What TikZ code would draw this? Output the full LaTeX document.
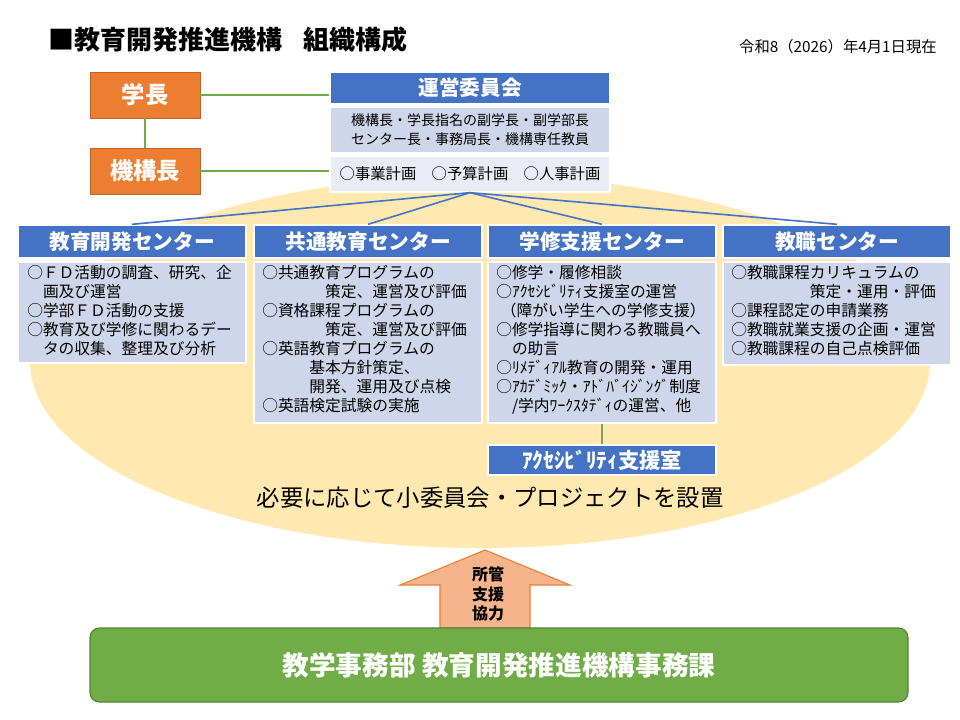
\documentclass[tikz,border=0pt]{standalone}
\usepackage{fontspec}
\setmainfont{Noto Sans CJK JP}
\usetikzlibrary{positioning}
\definecolor{hblue}{RGB}{68,114,196}
\definecolor{bbody}{RGB}{207,213,234}
\definecolor{blight}{RGB}{233,235,245}
\definecolor{orng}{RGB}{237,125,49}
\definecolor{lorng}{RGB}{246,180,140}
\definecolor{grn}{RGB}{112,173,71}
\definecolor{dgrn}{RGB}{84,130,53}
\definecolor{ell}{RGB}{255,233,176}
\begin{document}
\begin{tikzpicture}[x=0.75pt,y=-0.75pt,
  hdr/.style={fill=hblue,draw=white,line width=1pt,text=white,font=\bfseries\fontsize{15.5}{17}\selectfont,inner sep=0pt},
  bdy/.style={fill=bbody,draw=white,line width=1pt,inner sep=0pt},
  txt/.style={anchor=north west,align=left,inner sep=0pt,font=\fontsize{11.8}{14.25}\selectfont},
  ob/.style={fill=orng,draw=orng!80!black,text=white,font=\bfseries\fontsize{17.5}{19}\selectfont,minimum width=82.5pt,minimum height=34.5pt,inner sep=0pt},
  gl/.style={draw=grn,line width=1.2pt},
  bl/.style={draw=hblue,line width=1.2pt}]
\useasboundingbox (0,0) rectangle (960,720);
\fill[white] (0,0) rectangle (960,720);
\fill[ell] (480,362) ellipse [x radius=450, y radius=186];
\node[anchor=west,font=\bfseries\fontsize{19.5}{21}\selectfont,inner sep=0pt] (title) at (48,40) {■教育開発推進機構\hspace{0.8em}組織構成};
\node[anchor=east,font=\fontsize{11.5}{13}\selectfont,inner sep=0pt] (date) at (937,47) {令和8（2026）年4月1日現在};
% left
\node[ob] (gakucho) at (145,95) {学長};
\node[ob] (kikocho) at (145,171) {機構長};
\draw[gl] (gakucho) -- (kikocho);
% committee
\node[hdr,minimum width=210pt,minimum height=24pt] (unei) at (470,88) {運営委員会};
\node[bdy,minimum width=210pt,minimum height=34.5pt] (ueb) at (470,130) {};
\node[align=center,inner sep=0pt,font=\fontsize{10.5}{14.25}\selectfont] (uebt) at (ueb.center) {機構長・学長指名の副学長・副学部長\\センター長・事務局長・機構専任教員};
\node[fill=blight,draw=white,line width=1pt,minimum width=210pt,minimum height=27pt,inner sep=0pt,font=\fontsize{11.5}{13}\selectfont] (plan) at (470,174) {○事業計画\hspace{1em}○予算計画\hspace{1em}○人事計画};
\draw[gl] (gakucho.east) -- (unei.west|-gakucho.east);
\draw[gl] (kikocho.east) -- (plan.west|-kikocho.east);
% centers
\node[hdr,minimum width=171pt,minimum height=24.75pt] (c1) at (132,241.5) {教育開発センター};
\node[hdr,minimum width=171pt,minimum height=24.75pt] (c2) at (368,241.5) {共通教育センター};
\node[hdr,minimum width=171pt,minimum height=24.75pt] (c3) at (602,241.5) {学修支援センター};
\node[hdr,minimum width=171pt,minimum height=24.75pt] (c4) at (837,241.5) {教職センター};
\foreach \c in {c1,c2,c3,c4} \draw[bl] (plan.south) -- (\c.north);
\node[bdy,minimum width=171pt,minimum height=75.75pt] (b1) at (132,312.5) {};
\node[bdy,minimum width=171pt,minimum height=120.75pt] (b2) at (368,342.5) {};
\node[bdy,minimum width=171pt,minimum height=120.75pt] (b3) at (602,342.5) {};
\node[bdy,minimum width=171pt,minimum height=77.25pt] (b4) at (837,313.5) {};
\node[txt] (t1) at (27,265) {○ＦＤ活動の調査、研究、企\\\hspace{1em}画及び運営\\○学部ＦＤ活動の支援\\○教育及び学修に関わるデー\\\hspace{1em}タの収集、整理及び分析};
\node[txt] (t2) at (262,265) {○共通教育プログラムの\\\hspace{4em}策定、運営及び評価\\○資格課程プログラムの\\\hspace{4em}策定、運営及び評価\\○英語教育プログラムの\\\hspace{3em}基本方針策定、\\\hspace{3em}開発、運用及び点検\\○英語検定試験の実施};
\node[txt] (t3) at (496,265) {○修学・履修相談\\○ｱｸｾｼﾋﾞﾘﾃｨ支援室の運営\\\hspace{0.3em}（障がい学生への学修支援）\\○修学指導に関わる教職員へ\\\hspace{1em}の助言\\○ﾘﾒﾃﾞｨｱﾙ教育の開発・運用\\○ｱｶﾃﾞﾐｯｸ・ｱﾄﾞﾊﾞｲｼﾞﾝｸﾞ制度\\\hspace{1em}/学内ﾜｰｸｽﾀﾃﾞｨの運営、他};
\node[txt] (t4) at (731,265) {○教職課程カリキュラムの\\\hspace{5em}策定・運用・評価\\○課程認定の申請業務\\○教職就業支援の企画・運営\\○教職課程の自己点検評価};
\node[hdr,minimum width=171pt,minimum height=22.5pt,font=\bfseries\fontsize{16}{18}\selectfont] (acc) at (602,460) {ｱｸｾｼﾋﾞﾘﾃｨ支援室};
\draw[gl] (b3.south) -- (acc.north);
\node[font=\fontsize{17.5}{19}\selectfont,inner sep=0pt] (proj) at (490,498) {必要に応じて小委員会・プロジェクトを設置};
% arrow
\draw[fill=lorng,draw=orng,line width=0.8pt] (440,628) -- (440,585) -- (400,585) -- (485,550) -- (570,585) -- (530,585) -- (530,628) -- cycle;
\node[align=center,font=\bfseries\fontsize{12}{14.5}\selectfont,inner sep=0pt] (arrt) at (488,594) {所管\\支援\\協力};
\node[fill=grn,draw=dgrn,line width=0.8pt,rounded corners=7pt,minimum width=613.5pt,minimum height=55.5pt,inner sep=0pt,text=white,font=\bfseries\fontsize{20}{22}\selectfont] (jimu) at (499,665) {教学事務部 教育開発推進機構事務課};
\end{tikzpicture}
\end{document}
